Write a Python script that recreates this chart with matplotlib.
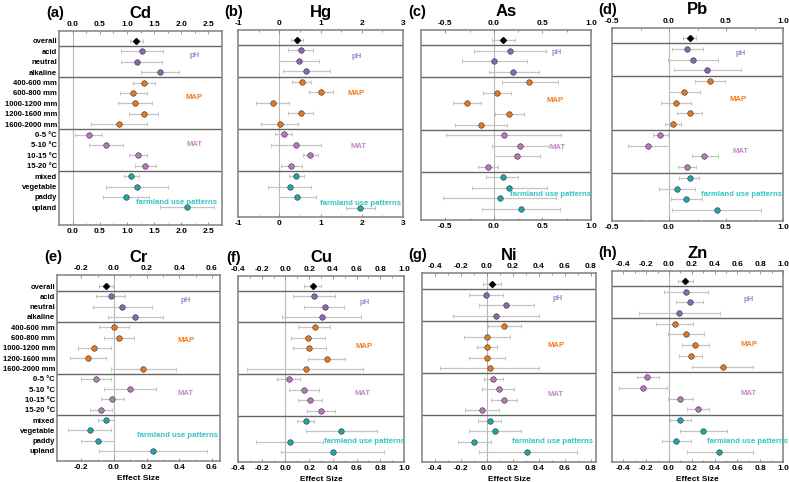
import matplotlib
matplotlib.use("Agg")
import matplotlib.pyplot as plt
import numpy as np

plt.rcParams['font.family'] = ['Liberation Sans', 'DejaVu Sans']
plt.rcParams['font.weight'] = 'bold'

categories = ["overall", "acid", "neutral", "alkaline",
              "400-600 mm", "600-800 mm", "1000-1200 mm", "1200-1600 mm", "1600-2000 mm",
              "0-5 °C", "5-10 °C", "10-15 °C", "15-20 °C",
              "mixed", "vegetable", "paddy", "upland"]
group_of_row = ["overall"] + ["pH"] * 3 + ["MAP"] * 5 + ["MAT"] * 4 + ["farm"] * 4
group_names = ["pH", "MAP", "MAT", "farmland use patterns"]

elements = ["Cd", "Hg", "As", "Pb", "Cr", "Cu", "Ni", "Zn"]
panel_letters = ["(a)", "(b)", "(c)", "(d)", "(e)", "(f)", "(g)", "(h)"]

cd_mean = [1.17, 1.28, 1.19, 1.60, 1.31, 1.11, 1.14, 1.31, 0.85, 0.30, 0.61, 1.20, 1.34, 1.08, 1.19, 0.98, 2.11]
cd_lo = [1.05, 0.90, 0.90, 1.25, 1.11, 0.88, 0.83, 1.03, 0.33, 0.05, 0.30, 1.03, 1.14, 0.95, 0.62, 0.56, 1.61]
cd_hi = [1.30, 1.66, 1.64, 1.95, 1.51, 1.37, 1.46, 1.58, 1.37, 0.54, 0.93, 1.37, 1.53, 1.22, 1.75, 1.40, 2.61]

hg_mean = [0.42, 0.52, 0.49, 0.65, 0.54, 1.01, -0.16, 0.52, 0.01, 0.11, 0.40, 0.75, 0.28, 0.41, 0.25, 0.44, 1.96]
hg_lo = [0.28, 0.20, 0.00, 0.10, 0.32, 0.71, -0.57, 0.20, -0.45, -0.11, -0.20, 0.57, 0.04, 0.24, -0.27, 0.00, 1.61]
hg_hi = [0.58, 0.83, 0.97, 1.22, 0.76, 1.31, 0.24, 0.83, 0.46, 0.30, 1.01, 0.95, 0.54, 0.60, 0.76, 0.88, 2.31]

as_mean = [0.09, 0.17, 0.00, 0.20, 0.36, 0.03, -0.28, 0.16, -0.13, 0.10, 0.27, 0.24, -0.06, 0.09, 0.16, 0.06, 0.28]
as_lo = [-0.02, -0.20, -0.33, -0.05, 0.08, -0.11, -0.42, 0.01, -0.40, -0.49, -0.02, 0.00, -0.16, -0.08, -0.23, -0.52, -0.12]
as_hi = [0.22, 0.54, 0.34, 0.46, 0.66, 0.18, -0.13, 0.31, 0.14, 0.69, 0.57, 0.48, 0.04, 0.25, 0.55, 0.64, 0.68]

pb_mean = [0.18, 0.16, 0.21, 0.33, 0.36, 0.13, 0.06, 0.18, 0.035, -0.08, -0.18, 0.31, 0.16, 0.18, 0.07, 0.15, 0.42]
pb_lo = [0.12, 0.03, -0.01, 0.04, 0.23, 0.00, -0.07, 0.07, -0.035, -0.14, -0.36, 0.20, 0.08, 0.09, -0.09, 0.02, 0.03]
pb_hi = [0.24, 0.30, 0.43, 0.63, 0.49, 0.27, 0.19, 0.29, 0.105, -0.01, 0.00, 0.43, 0.24, 0.26, 0.23, 0.29, 0.81]

cr_mean = [-0.05, -0.02, 0.05, 0.13, 0.00, 0.03, -0.12, -0.16, 0.18, -0.11, 0.10, -0.01, -0.08, -0.05, -0.15, -0.10, 0.24]
cr_lo = [-0.09, -0.11, -0.13, -0.04, -0.09, -0.06, -0.22, -0.27, -0.02, -0.20, -0.06, -0.08, -0.15, -0.10, -0.28, -0.20, -0.09]
cr_hi = [-0.005, 0.07, 0.23, 0.30, 0.09, 0.12, -0.02, -0.05, 0.38, -0.02, 0.26, 0.06, -0.01, 0.00, -0.02, 0.00, 0.57]

cu_mean = [0.23, 0.24, 0.33, 0.31, 0.25, 0.19, 0.20, 0.35, 0.17, 0.03, 0.16, 0.21, 0.30, 0.17, 0.47, 0.04, 0.40]
cu_lo = [0.16, 0.06, 0.16, -0.03, 0.11, 0.05, 0.06, 0.19, -0.32, -0.07, 0.03, 0.11, 0.18, 0.10, 0.17, -0.25, -0.04]
cu_hi = [0.30, 0.42, 0.49, 0.64, 0.38, 0.33, 0.34, 0.50, 0.65, 0.12, 0.28, 0.31, 0.42, 0.24, 0.77, 0.32, 0.83]

ni_mean = [0.04, -0.01, 0.15, 0.07, 0.13, 0.00, 0.00, 0.00, 0.02, 0.05, 0.09, 0.13, -0.04, 0.02, 0.06, -0.10, 0.31]
ni_lo = [-0.03, -0.14, -0.06, -0.26, 0.01, -0.18, -0.08, -0.14, -0.36, -0.02, -0.04, 0.03, -0.17, -0.07, -0.14, -0.22, -0.06]
ni_hi = [0.11, 0.12, 0.36, 0.40, 0.26, 0.18, 0.08, 0.14, 0.40, 0.12, 0.21, 0.23, 0.09, 0.11, 0.26, 0.03, 0.69]

zn_mean = [0.14, 0.15, 0.18, 0.09, 0.055, 0.15, 0.23, 0.19, 0.47, -0.19, -0.23, 0.10, 0.25, 0.10, 0.30, 0.06, 0.44]
zn_lo = [0.08, -0.04, 0.06, -0.26, -0.11, -0.01, 0.11, 0.09, 0.20, -0.28, -0.44, -0.01, 0.16, 0.01, 0.10, -0.06, 0.16]
zn_hi = [0.21, 0.34, 0.30, 0.45, 0.21, 0.31, 0.35, 0.29, 0.74, -0.09, -0.02, 0.21, 0.35, 0.19, 0.51, 0.19, 0.74]

data = {
    "Cd": (cd_mean, cd_lo, cd_hi), "Hg": (hg_mean, hg_lo, hg_hi),
    "As": (as_mean, as_lo, as_hi), "Pb": (pb_mean, pb_lo, pb_hi),
    "Cr": (cr_mean, cr_lo, cr_hi), "Cu": (cu_mean, cu_lo, cu_hi),
    "Ni": (ni_mean, ni_lo, ni_hi), "Zn": (zn_mean, zn_lo, zn_hi),
}

# styling
marker_colors = {"overall": "#111111", "pH": "#8a68b0", "MAP": "#e5791f", "MAT": "#b878bd", "farm": "#1ea5a8"}
label_colors = {"pH": "#9a86d0", "MAP": "#f07c22", "MAT": "#c986c9", "farmland use patterns": "#33c3c6"}

W, H = 789, 482
# axes boxes in pixels: left, right, top, bottom
boxes = [(59, 222, 31, 225), (238, 403, 30, 217), (421, 591, 30, 220), (612, 783, 28, 221),
         (57, 220, 275, 461), (238, 404, 276, 462), (422, 596, 273, 462), (612, 783, 271, 462)]
ylims = [(17.7, -0.96), (16.86, -0.95), (17.04, -0.95), (17.0, -0.93),
         (16.97, -1.07), (16.96, -0.96), (16.95, -1.05), (16.93, -0.94)]
xlims = [(-0.25, 2.75), (-1, 3), (-0.75, 1.0), (-0.5, 1.0),
         (-0.35, 0.65), (-0.4, 1.0), (-0.5, 0.84), (-0.5, 1.0)]
xticks = [np.arange(0, 2.51, 0.5), np.arange(-1, 3.1, 1), np.arange(-0.5, 1.01, 0.5), np.arange(-0.5, 1.01, 0.5),
          np.arange(-0.2, 0.61, 0.2), np.arange(-0.4, 1.01, 0.2), np.arange(-0.4, 0.81, 0.2), np.arange(-0.4, 1.01, 0.2)]
tick_fmt = ["{:.1f}", "{:.0f}", "{:.1f}", "{:.1f}", "{:.1f}", "{:.1f}", "{:.1f}", "{:.1f}"]
# group label placements (x in axes fraction, y in rows)
glabel_pos = [
    [(0.83, 1.35), (0.83, 5.4), (0.83, 10.0), (0.72, 15.5)],
    [(0.72, 1.6), (0.715, 5.1), (0.73, 10.1), (0.74, 15.6)],
    [(0.80, 1.2), (0.79, 5.7), (0.80, 10.2), (0.76, 14.6)],
    [(0.75, 1.4), (0.74, 5.7), (0.75, 10.5), (0.76, 14.5)],
    [(0.79, 1.45), (0.79, 5.3), (0.79, 10.4), (0.74, 14.5)],
    [(0.76, 1.6), (0.76, 5.8), (0.75, 10.4), (0.76, 15.0)],
    [(0.78, 1.4), (0.77, 5.9), (0.77, 10.5), (0.75, 14.95)],
    [(0.80, 1.7), (0.80, 5.9), (0.80, 10.5), (0.79, 15.0)],
]

fig = plt.figure(figsize=(W / 100, H / 100), dpi=100)
rows = np.arange(len(categories))

for i, el in enumerate(elements):
    l, r, t, b = boxes[i]
    ax = fig.add_axes([l / W, 1 - b / H, (r - l) / W, (b - t) / H])
    mean, lo, hi = [np.array(v, dtype=float) for v in data[el]]
    ax.axvline(0, color="#b8b8b8", lw=0.8, zorder=1)
    for sep in [0.5, 3.5, 8.5, 12.5]:
        ax.axhline(sep, color="#666666", lw=1.0, zorder=1)
    for j in rows:
        g = group_of_row[j]
        ax.errorbar(mean[j], j, xerr=[[mean[j] - lo[j]], [hi[j] - mean[j]]],
                    fmt="none", ecolor="#c4c4c4", elinewidth=0.9, capsize=1.6, capthick=0.7, zorder=2)
        if g == "overall":
            ax.plot(mean[j], j, marker="D", ms=3.0, color="#000000", zorder=3)
        else:
            ax.plot(mean[j], j, marker="o", ms=4.0, mfc=marker_colors[g], mec="#333333", mew=0.4, zorder=3)
    for gname, (fx, fy) in zip(group_names, glabel_pos[i]):
        ax.text(fx, fy, gname, transform=ax.get_yaxis_transform(), ha="center", va="center",
                fontsize=5.6, fontweight="bold", color=label_colors[gname])
    ax.set_xlim(*xlims[i])
    ax.set_ylim(*ylims[i])
    ax.set_xticks(xticks[i])
    ax.set_xticklabels([tick_fmt[i].format(v + 0.0) for v in xticks[i]])
    minor = (xticks[i][:-1] + xticks[i][1:]) / 2
    ax.set_xticks(minor, minor=True)
    ax.tick_params(axis="x", which="both", top=True, labeltop=True, bottom=True, labelbottom=True,
                   direction="in", length=2, width=0.6, color="#888888", labelsize=6, pad=2)
    ax.tick_params(axis="x", which="minor", length=1.5)
    for lab in ax.get_xticklabels():
        lab.set_fontweight("bold")
    if i in (0, 4):
        ax.set_yticks(rows)
        ax.set_yticklabels(categories, fontsize=5.5, fontweight="bold")
        ax.tick_params(axis="y", length=0, pad=1.5)
    else:
        ax.set_yticks([])
    for sp in ax.spines.values():
        sp.set_color("#808080")
        sp.set_linewidth(1.1)
    if i >= 4:
        ax.set_xlabel("Effect Size", fontsize=6, fontweight="bold", labelpad=3)
    # titles
    cx = (l + r) / 2 / W
    ty = 1 - (t - 18) / H
    fig.text(cx, ty, el, ha="center", va="center", fontsize=12, fontweight="bold")
    fig.text((l - 4) / W, 1 - (t - 18) / H, panel_letters[i], ha="center", va="center",
             fontsize=10.5, fontweight="bold")

fig.savefig("out.png", dpi=100)
